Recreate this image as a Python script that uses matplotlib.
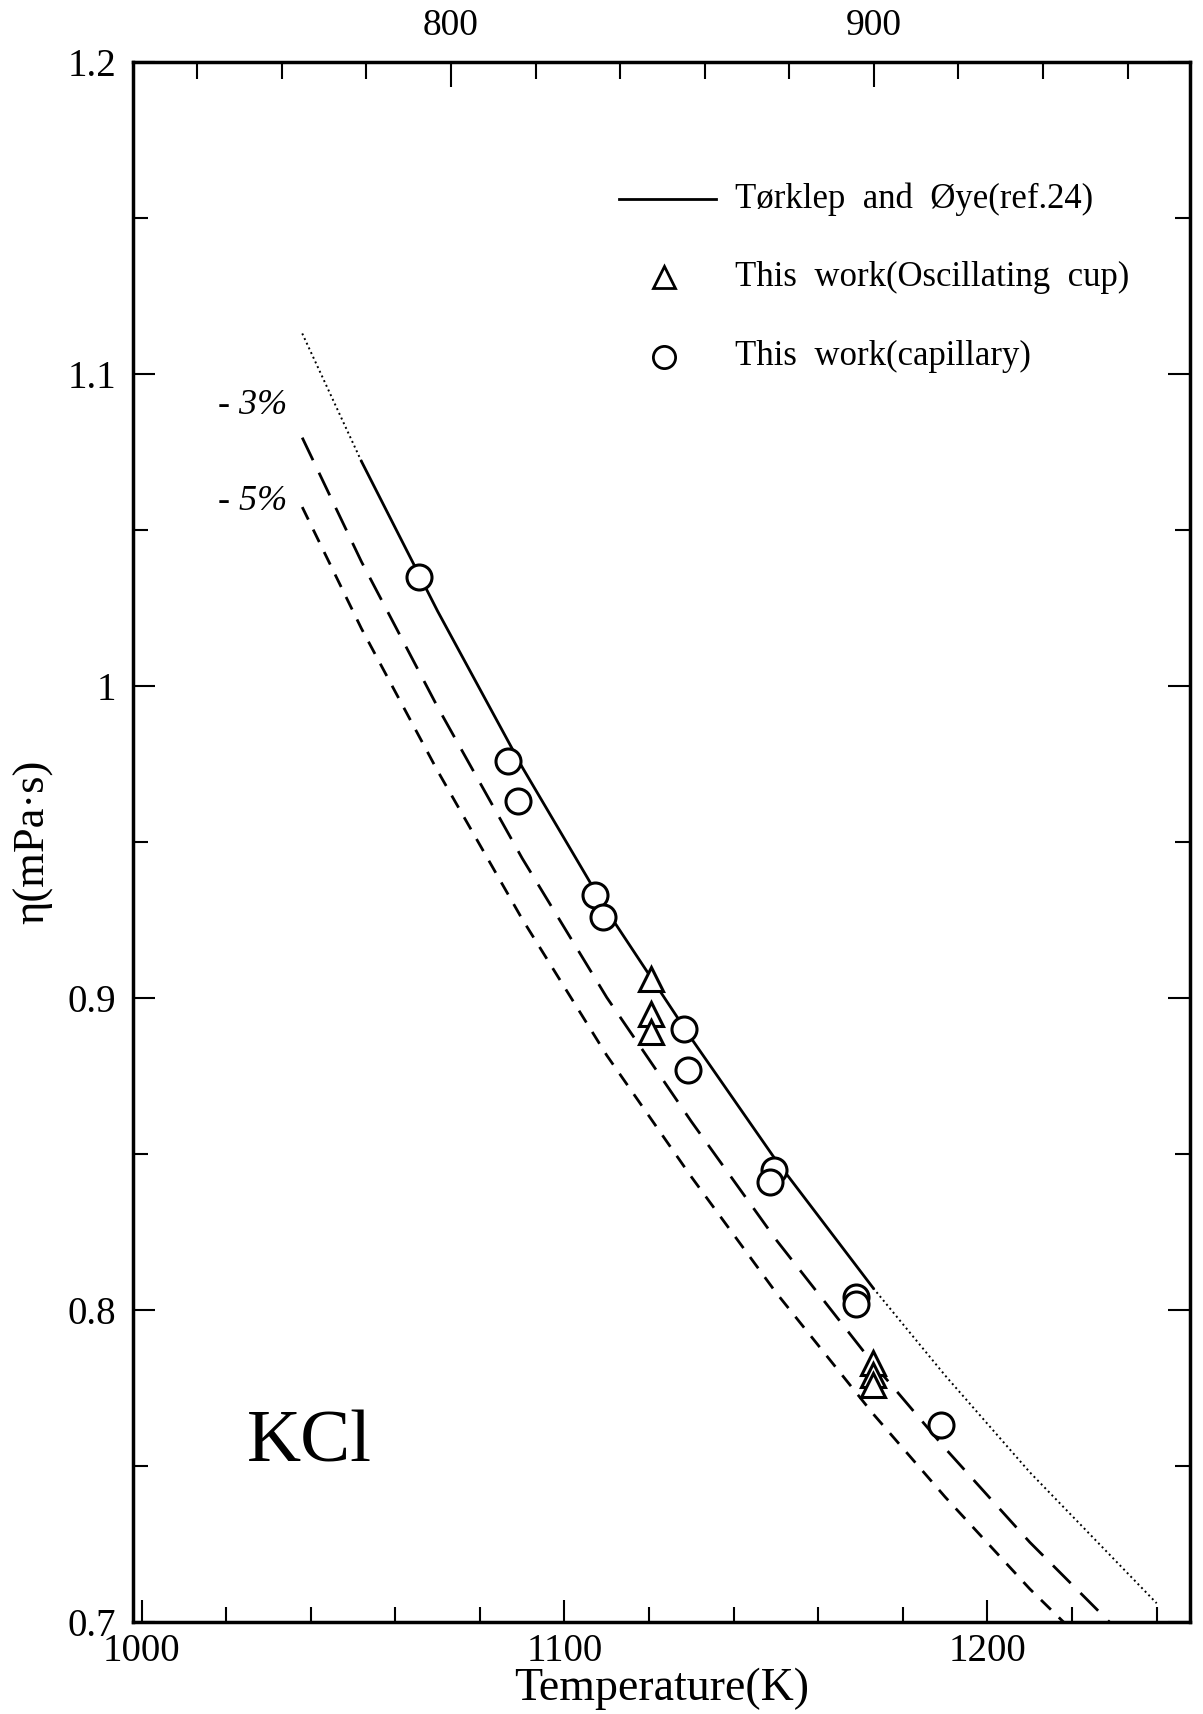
import matplotlib
matplotlib.use("Agg")
import matplotlib.pyplot as plt
from matplotlib.ticker import MultipleLocator, FixedLocator

plt.rcParams["font.family"] = ["Liberation Serif", "DejaVu Serif"]

# Tørklep and Øye reference curve
T_ref = [1038, 1052, 1070, 1090, 1110, 1130, 1150, 1173, 1190, 1210, 1230, 1240]
eta_ref = [1.113, 1.072, 1.024, 0.974, 0.928, 0.887, 0.848, 0.807, 0.779, 0.748, 0.720, 0.706]
# -3 % and -5 % deviation lines
dev_pct = [3, 5]

# this work: capillary
T_cap = [1065.6, 1086.7, 1089.0, 1107.2, 1109.2, 1128.2, 1129.2, 1149.5, 1148.7, 1169.0, 1169.0, 1189.0]
eta_cap = [1.035, 0.976, 0.963, 0.933, 0.926, 0.890, 0.877, 0.845, 0.841, 0.804, 0.802, 0.763]

# this work: oscillating cup
T_osc = [1120.5, 1120.5, 1120.5, 1173.0, 1173.0, 1173.0]
eta_osc = [0.906, 0.895, 0.889, 0.783, 0.779, 0.776]

fig = plt.figure(figsize=(12.03, 17.14), dpi=100)
ax = fig.add_axes([0.1106, 0.0537, 0.879, 0.9101])

# reference curve: solid in its measured range, dotted outside
ax.plot(T_ref[1:8], eta_ref[1:8], "-", color="black", lw=2.0)
ax.plot(T_ref[:2], eta_ref[:2], ":", color="black", lw=1.4)
ax.plot(T_ref[7:], eta_ref[7:], ":", color="black", lw=1.4)

styles = {3: (0, (9, 5)), 5: (0, (5, 4))}
for p in dev_pct:
    ax.plot(T_ref, [v * (1 - p / 100) for v in eta_ref], color="black",
            lw=2.0, linestyle=styles[p])

ax.plot(T_cap, eta_cap, "o", ms=18, mfc="white", mec="black", mew=2.2)
ax.plot(T_osc, eta_osc, "^", ms=17, mfc="white", mec="black", mew=2.2)

# legend drawn by hand
ax.plot([1112.8, 1135.9], [1.156, 1.156], "-", color="black", lw=2.0)
ax.text(1140.3, 1.156, "Tørklep  and  Øye(ref.24)", fontsize=25, va="center")
ax.plot([1123.6], [1.131], "^", ms=16, mfc="white", mec="black", mew=2)
ax.text(1140.3, 1.131, "This  work(Oscillating  cup)", fontsize=25, va="center")
ax.plot([1123.6], [1.1055], "o", ms=16, mfc="white", mec="black", mew=2)
ax.text(1140.3, 1.1055, "This  work(capillary)", fontsize=25, va="center")

ax.text(1018, 1.090, "- 3%", fontsize=26, style="italic", va="center")
ax.text(1018, 1.059, "- 5%", fontsize=26, style="italic", va="center")
ax.text(1025, 0.757, "KCl", fontsize=54, va="center")

ax.set_xlim(998, 1248)
ax.set_ylim(0.7, 1.2)
ax.set_xticks([1000, 1100, 1200])
ax.xaxis.set_minor_locator(MultipleLocator(20))
ax.set_yticks([0.7, 0.8, 0.9, 1.0, 1.1, 1.2])
ax.set_yticklabels(["0.7", "0.8", "0.9", "1", "1.1", "1.2"])
ax.yaxis.set_minor_locator(MultipleLocator(0.05))
ax.tick_params(which="both", direction="in", right=True, width=1.5,
               labelsize=28)
ax.tick_params(axis="x", pad=8)
ax.tick_params(axis="y", pad=12)
ax.tick_params(which="major", length=16)
ax.tick_params(which="minor", length=11)
for s in ax.spines.values():
    s.set_linewidth(2.5)

# top axis in degrees Celsius
top = ax.secondary_xaxis("top", functions=(lambda t: t - 273.15, lambda c: c + 273.15))
top.xaxis.set_major_locator(FixedLocator([800, 900]))
top.xaxis.set_minor_locator(FixedLocator(list(range(740, 980, 20))))
top.tick_params(which="both", direction="in", width=1.5, labelsize=27, pad=14)
top.tick_params(which="major", length=18)
top.tick_params(which="minor", length=12)

ax.set_xlabel("Temperature(K)", fontsize=33, labelpad=-2)
ax.set_ylabel("η(mPa·s)", fontsize=32, labelpad=10)

fig.savefig("out.png", dpi=100)
